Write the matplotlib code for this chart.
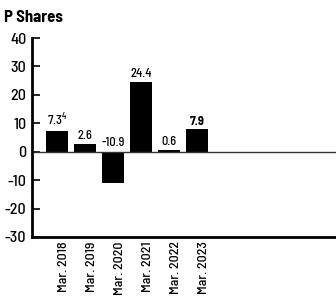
import matplotlib
matplotlib.use("Agg")
import matplotlib.pyplot as plt
from matplotlib import font_manager
from matplotlib.transforms import ScaledTranslation

# datos
periods = ["Mar. 2018", "Mar. 2019", "Mar. 2020", "Mar. 2021", "Mar. 2022", "Mar. 2023"]
returns = [7.3, 2.6, -10.9, 24.4, 0.6, 7.9]
labels = ["7.3$^{4}$", "2.6", "-10.9", "24.4", "0.6", "7.9"]
yticks = [-30, -20, -10, 0, 10, 20, 30, 40]

names = {f.name for f in font_manager.fontManager.ttflist}
fam = "DejaVu Sans"
for cand in ["Barlow Semi Condensed", "Asap Condensed", "Archivo Narrow"]:
    if cand in names:
        fam = cand
        break
plt.rcParams["font.family"] = [fam, "DejaVu Sans"]
plt.rcParams["font.weight"] = 500
plt.rcParams["mathtext.fontset"] = "custom"
plt.rcParams["mathtext.rm"] = fam + ":medium"

fig = plt.figure(figsize=(3.36, 2.97), dpi=100)
ax = fig.add_axes([32 / 336, 1 - 237 / 297, 305 / 336, 199 / 297])

x = list(range(len(periods)))
ax.bar(x, returns, width=0.78, color="black")
ax.axhline(0, color="#333333", lw=1.0)

for xi, v, lab in zip(x, returns, labels):
    y = max(v, 0) + 0.8
    weight = "bold" if lab == "7.9" else 500
    ax.text(xi, y, lab, ha="center", va="bottom", fontsize=9, fontweight=weight)

ax.set_xlim(-0.89, 10.0)
ax.set_ylim(-30, 40)
ax.set_yticks(yticks)
ax.set_yticklabels([str(t) for t in yticks], fontsize=11.5)
ax.tick_params(axis="y", direction="in", length=6, width=1.2, pad=4)
ax.set_xticks(x)
ax.set_xticklabels(periods, rotation=90, fontsize=10)
ax.tick_params(axis="x", length=0, pad=3)

# las etiquetas del eje x van algo corridas a la derecha
shift = ScaledTranslation(7 / 100, 0, fig.dpi_scale_trans)
for t in ax.get_xticklabels():
    t.set_transform(t.get_transform() + shift)

for s in ["top", "right"]:
    ax.spines[s].set_visible(False)
ax.spines["left"].set_linewidth(2)
ax.spines["bottom"].set_linewidth(2)

fig.text(4 / 336, 1 - 17 / 297, "P Shares", fontsize=12, fontweight="bold", va="center", ha="left")

fig.savefig("out.png", dpi=100)
